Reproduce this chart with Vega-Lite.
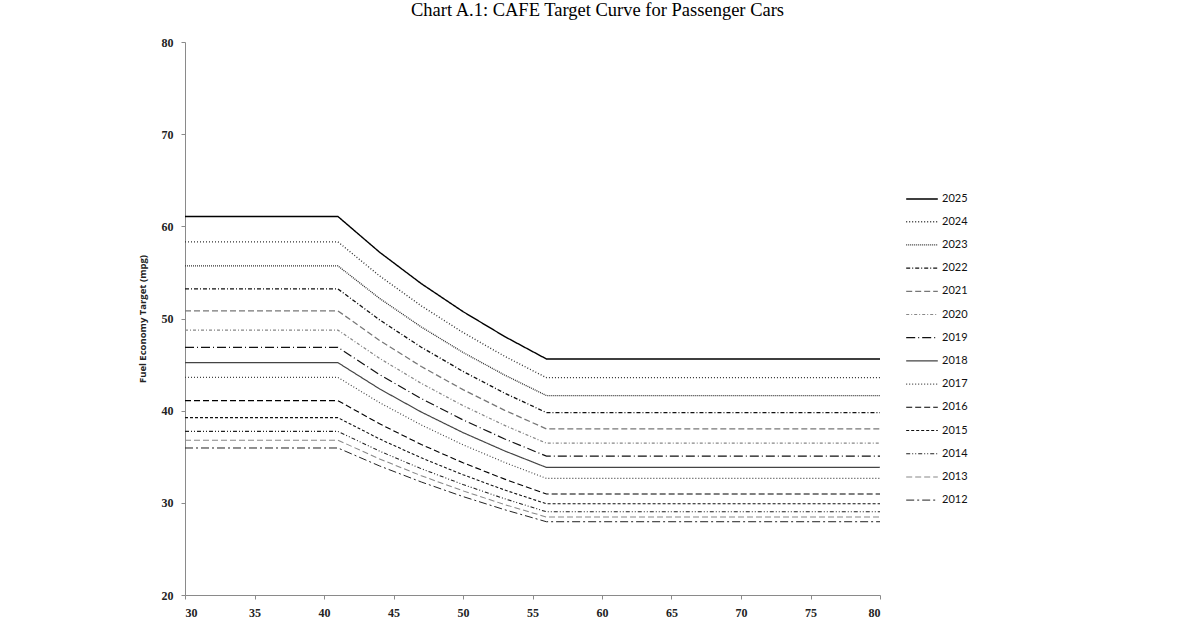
{
  "$schema": "https://vega.github.io/schema/vega-lite/v6.json",
  "width": 695,
  "height": 553,
  "autosize": "none",
  "padding": {"left": 185, "top": 42, "right": 320, "bottom": 33},
  "background": "white",
  "title": {
    "text": "Chart A.1:  CAFE Target Curve for Passenger Cars",
    "font": "Liberation Serif, Times New Roman, serif",
    "fontSize": 18.5,
    "fontWeight": "normal",
    "color": "#000",
    "anchor": "middle",
    "frame": "group",
    "dx": 65,
    "offset": 17
  },
  "config": {
    "view": {"stroke": null},
    "axis": {
      "grid": false,
      "domainColor": "#8a8a8a",
      "tickColor": "#8a8a8a",
      "tickSize": 4,
      "labelFont": "Liberation Serif, Times New Roman, serif",
      "labelFontWeight": "bold",
      "labelFontSize": 12,
      "labelColor": "#222"
    }
  },
  "data": {
    "values": [
      {"year": "2025", "x": 30, "y": 61.07}, {"year": "2025", "x": 41, "y": 61.07}, {"year": "2025", "x": 44, "y": 57.19}, {"year": "2025", "x": 47, "y": 53.78}, {"year": "2025", "x": 50, "y": 50.75}, {"year": "2025", "x": 53, "y": 48.04}, {"year": "2025", "x": 56, "y": 45.61}, {"year": "2025", "x": 80, "y": 45.61},
      {"year": "2024", "x": 30, "y": 58.32}, {"year": "2024", "x": 41, "y": 58.32}, {"year": "2024", "x": 44, "y": 54.62}, {"year": "2024", "x": 47, "y": 51.37}, {"year": "2024", "x": 50, "y": 48.48}, {"year": "2024", "x": 53, "y": 45.90}, {"year": "2024", "x": 56, "y": 43.58}, {"year": "2024", "x": 80, "y": 43.58},
      {"year": "2023", "x": 30, "y": 55.71}, {"year": "2023", "x": 41, "y": 55.71}, {"year": "2023", "x": 44, "y": 52.18}, {"year": "2023", "x": 47, "y": 49.08}, {"year": "2023", "x": 50, "y": 46.32}, {"year": "2023", "x": 53, "y": 43.86}, {"year": "2023", "x": 56, "y": 41.64}, {"year": "2023", "x": 80, "y": 41.64},
      {"year": "2022", "x": 30, "y": 53.21}, {"year": "2022", "x": 41, "y": 53.21}, {"year": "2022", "x": 44, "y": 49.85}, {"year": "2022", "x": 47, "y": 46.88}, {"year": "2022", "x": 50, "y": 44.26}, {"year": "2022", "x": 53, "y": 41.90}, {"year": "2022", "x": 56, "y": 39.79}, {"year": "2022", "x": 80, "y": 39.79},
      {"year": "2021", "x": 30, "y": 50.83}, {"year": "2021", "x": 41, "y": 50.83}, {"year": "2021", "x": 44, "y": 47.62}, {"year": "2021", "x": 47, "y": 44.79}, {"year": "2021", "x": 50, "y": 42.28}, {"year": "2021", "x": 53, "y": 40.04}, {"year": "2021", "x": 56, "y": 38.02}, {"year": "2021", "x": 80, "y": 38.02},
      {"year": "2020", "x": 30, "y": 48.74}, {"year": "2020", "x": 41, "y": 48.74}, {"year": "2020", "x": 44, "y": 45.67}, {"year": "2020", "x": 47, "y": 42.96}, {"year": "2020", "x": 50, "y": 40.55}, {"year": "2020", "x": 53, "y": 38.40}, {"year": "2020", "x": 56, "y": 36.47}, {"year": "2020", "x": 80, "y": 36.47},
      {"year": "2019", "x": 30, "y": 46.87}, {"year": "2019", "x": 41, "y": 46.87}, {"year": "2019", "x": 44, "y": 43.91}, {"year": "2019", "x": 47, "y": 41.31}, {"year": "2019", "x": 50, "y": 39.00}, {"year": "2019", "x": 53, "y": 36.93}, {"year": "2019", "x": 56, "y": 35.07}, {"year": "2019", "x": 80, "y": 35.07},
      {"year": "2018", "x": 30, "y": 45.21}, {"year": "2018", "x": 41, "y": 45.21}, {"year": "2018", "x": 44, "y": 42.36}, {"year": "2018", "x": 47, "y": 39.85}, {"year": "2018", "x": 50, "y": 37.62}, {"year": "2018", "x": 53, "y": 35.63}, {"year": "2018", "x": 56, "y": 33.84}, {"year": "2018", "x": 80, "y": 33.84},
      {"year": "2017", "x": 30, "y": 43.61}, {"year": "2017", "x": 41, "y": 43.61}, {"year": "2017", "x": 44, "y": 40.87}, {"year": "2017", "x": 47, "y": 38.45}, {"year": "2017", "x": 50, "y": 36.30}, {"year": "2017", "x": 53, "y": 34.38}, {"year": "2017", "x": 56, "y": 32.65}, {"year": "2017", "x": 80, "y": 32.65},
      {"year": "2016", "x": 30, "y": 41.09}, {"year": "2016", "x": 41, "y": 41.09}, {"year": "2016", "x": 44, "y": 38.57}, {"year": "2016", "x": 47, "y": 36.33}, {"year": "2016", "x": 50, "y": 34.35}, {"year": "2016", "x": 53, "y": 32.57}, {"year": "2016", "x": 56, "y": 30.96}, {"year": "2016", "x": 80, "y": 30.96},
      {"year": "2015", "x": 30, "y": 39.24}, {"year": "2015", "x": 41, "y": 39.24}, {"year": "2015", "x": 44, "y": 36.93}, {"year": "2015", "x": 47, "y": 34.88}, {"year": "2015", "x": 50, "y": 33.05}, {"year": "2015", "x": 53, "y": 31.39}, {"year": "2015", "x": 56, "y": 29.90}, {"year": "2015", "x": 80, "y": 29.90},
      {"year": "2014", "x": 30, "y": 37.75}, {"year": "2014", "x": 41, "y": 37.75}, {"year": "2014", "x": 44, "y": 35.61}, {"year": "2014", "x": 47, "y": 33.70}, {"year": "2014", "x": 50, "y": 31.99}, {"year": "2014", "x": 53, "y": 30.44}, {"year": "2014", "x": 56, "y": 29.03}, {"year": "2014", "x": 80, "y": 29.03},
      {"year": "2013", "x": 30, "y": 36.80}, {"year": "2013", "x": 41, "y": 36.80}, {"year": "2013", "x": 44, "y": 34.76}, {"year": "2013", "x": 47, "y": 32.94}, {"year": "2013", "x": 50, "y": 31.30}, {"year": "2013", "x": 53, "y": 29.81}, {"year": "2013", "x": 56, "y": 28.46}, {"year": "2013", "x": 80, "y": 28.46},
      {"year": "2012", "x": 30, "y": 35.95}, {"year": "2012", "x": 41, "y": 35.95}, {"year": "2012", "x": 44, "y": 34.00}, {"year": "2012", "x": 47, "y": 32.26}, {"year": "2012", "x": 50, "y": 30.68}, {"year": "2012", "x": 53, "y": 29.25}, {"year": "2012", "x": 56, "y": 27.95}, {"year": "2012", "x": 80, "y": 27.95}
    ]
  },
  "mark": {"type": "line", "clip": true},
  "encoding": {
    "x": {
      "field": "x", "type": "quantitative",
      "scale": {"domain": [30, 80], "nice": false, "zero": false},
      "axis": {"values": [30, 35, 40, 45, 50, 55, 60, 65, 70, 75, 80], "title": null, "labelPadding": 8}
    },
    "y": {
      "field": "y", "type": "quantitative",
      "scale": {"domain": [20, 80], "nice": false, "zero": false},
      "axis": {
        "values": [20, 30, 40, 50, 60, 70, 80],
        "title": "Fuel Economy Target (mpg)",
        "titleFont": "Open Sans",
        "titleFontSize": 9.5,
        "titleFontWeight": "bold",
        "titleColor": "#222",
        "titlePadding": 14,
        "labelPadding": 8
      }
    },
    "detail": {"field": "year"},
    "color": {
      "field": "year", "type": "nominal", "title": null,
      "scale": {
        "domain": ["2025","2024","2023","2022","2021","2020","2019","2018","2017","2016","2015","2014","2013","2012"],
        "range": ["#000","#333","#333","#111","#777","#888","#111","#444","#444","#000","#111","#222","#888","#222"]
      },
      "legend": {
        "orient": "none",
        "legendX": 720,
        "legendY": 140,
        "symbolType": "stroke",
        "symbolSize": 1000,
        "rowPadding": 1.2,
        "labelFont": "Lato",
        "labelFontSize": 11,
        "labelColor": "#111",
        "labelOffset": 3
      }
    },
    "strokeDash": {
      "field": "year", "type": "nominal", "title": null,
      "scale": {
        "domain": ["2025","2024","2023","2022","2021","2020","2019","2018","2017","2016","2015","2014","2013","2012"],
        "range": [[1,0],[1,2],[1,1],[4,2,1,2],[6,3],[3,2,1,2],[9,3,1,3],[1,0],[1,2],[6,3],[3,2],[4,2,1,2,1,2],[6,3],[8,3,2,3]]
      }
    },
    "strokeWidth": {
      "field": "year", "type": "nominal", "title": null,
      "scale": {
        "domain": ["2025","2024","2023","2022","2021","2020","2019","2018","2017","2016","2015","2014","2013","2012"],
        "range": [1.4,1,1.2,1,1.1,1,1,1.1,1,2.4,1.2,1,1.1,1.1]
      }
    }
  }
}
